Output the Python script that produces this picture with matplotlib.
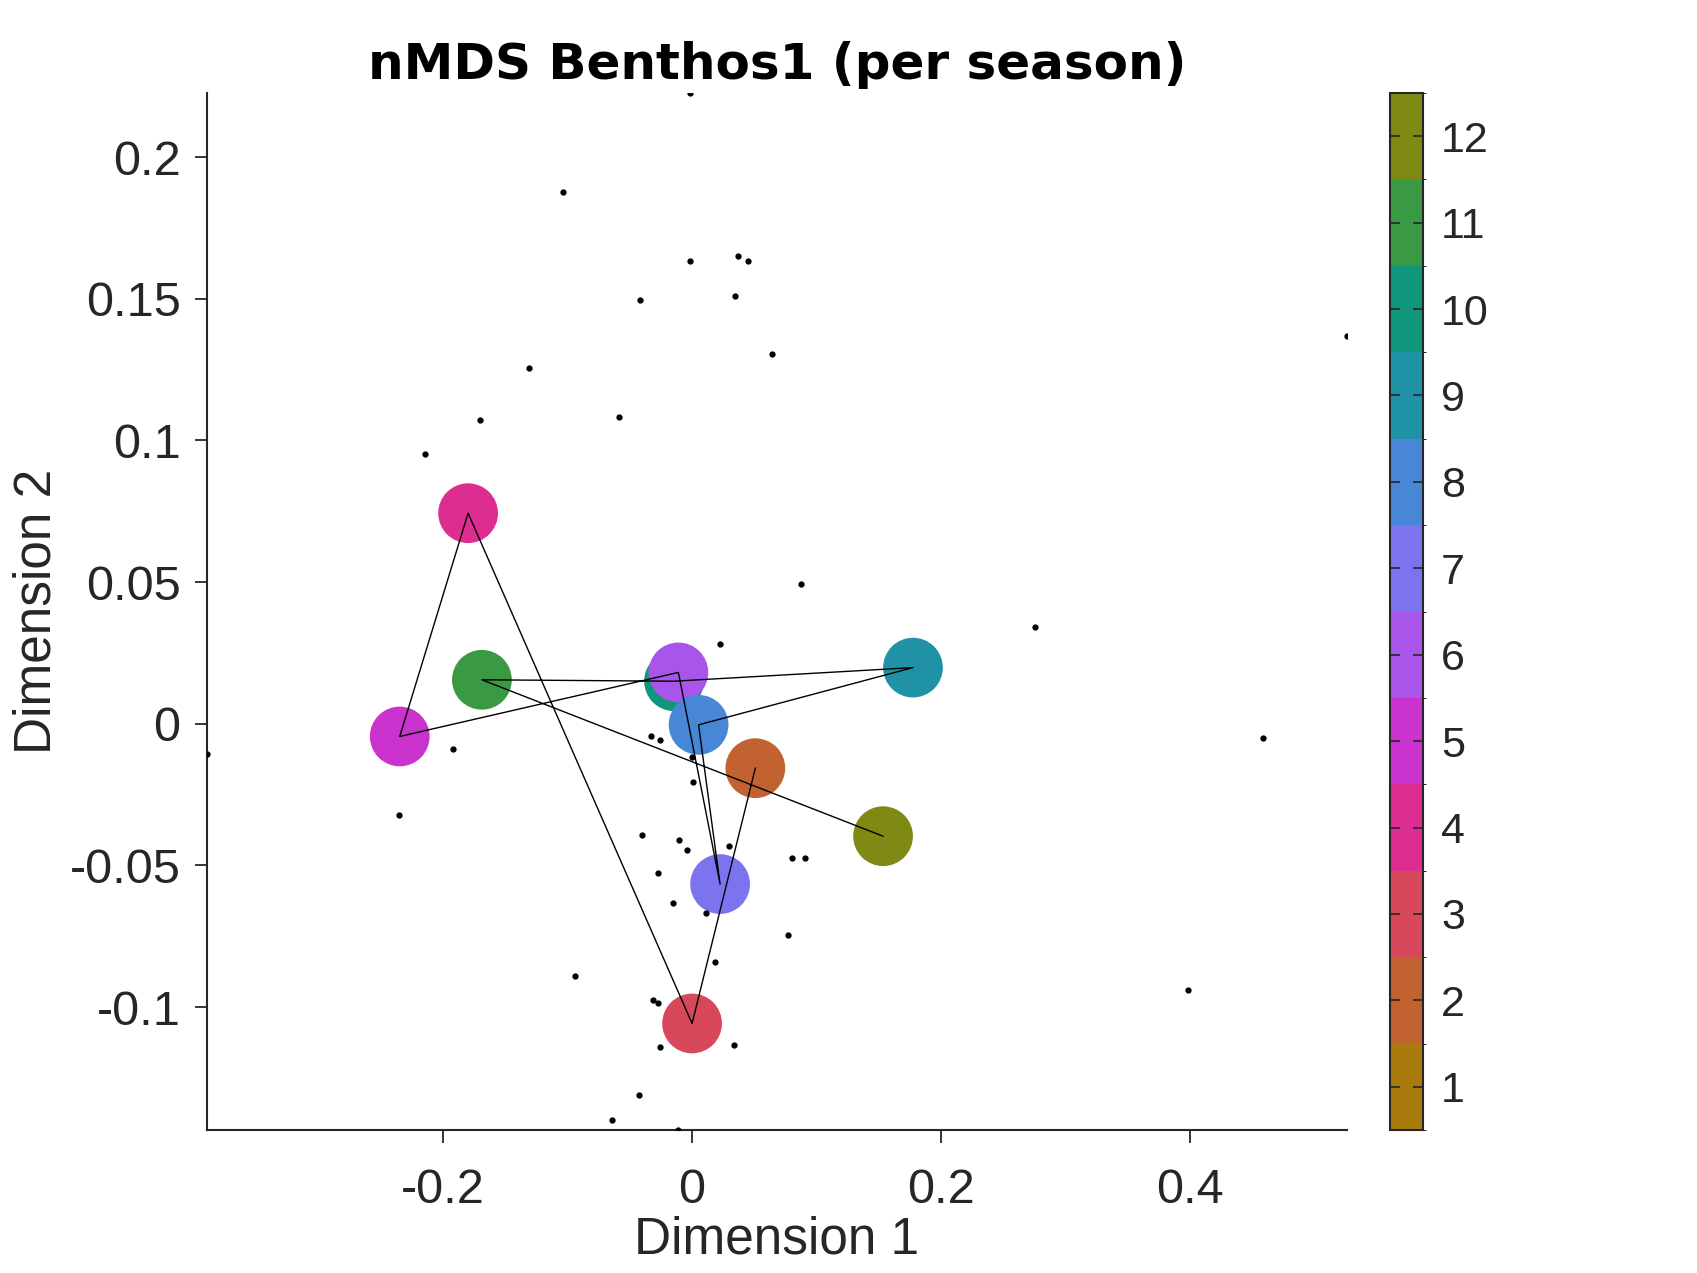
import matplotlib
matplotlib.use('Agg')
import matplotlib.pyplot as plt
from matplotlib.colors import ListedColormap, BoundaryNorm
from matplotlib.cm import ScalarMappable
from matplotlib.ticker import FuncFormatter

# samples (small black dots)
dot_x = [-0.0017, -0.1035, -0.0017, 0.0365, 0.0452, -0.0417, 0.0348, 0.0643,
         -0.1313, 0.526, -0.0583, -0.1704, -0.2143, 0.0877, 0.2757, 0.0225,
         -0.3896, -0.1921, 0.4583, -0.0328, -0.0257, 0.0, 0.0009, -0.2351,
         -0.040, -0.0106, -0.0041, 0.0296, 0.0805, 0.0903, -0.0274, -0.0152,
         0.0110, 0.0773, 0.0185, -0.0938, -0.0313, -0.0274, -0.026, 0.0339,
         -0.0426, -0.0643, -0.0113, 0.3983]
dot_y = [0.2226, 0.1878, 0.1633, 0.1652, 0.1633, 0.1495, 0.1511, 0.1304,
         0.1254, 0.1369, 0.1082, 0.1071, 0.0953, 0.0492, 0.0340, 0.0280,
         -0.0107, -0.0088, -0.0050, -0.0045, -0.0058, -0.0119, -0.0205, -0.0322,
         -0.0394, -0.0410, -0.0445, -0.0432, -0.0474, -0.0474, -0.0526, -0.0632,
         -0.0668, -0.0745, -0.0841, -0.0890, -0.0975, -0.0985, -0.1140, -0.1134,
         -0.1312, -0.1400, -0.1434, -0.0941]

# season centroids
seasons = [2, 3, 4, 5, 6, 7, 8, 9, 10, 11, 12]
cent_x = [0.0508, 0.0, -0.1799, -0.2348, -0.0110, 0.0225, 0.0052, 0.1774, -0.0145, -0.1688, 0.1534]
cent_y = [-0.0157, -0.1058, 0.0743, -0.0045, 0.0181, -0.0566, -0.0004, 0.0198, 0.0150, 0.0155, -0.0397]

season_colors = ['#A97A0C', '#C26230', '#D7485B', '#DE2D91', '#CB33CF', '#A954EA',
                 '#7C74EE', '#4787D6', '#1F93A5', '#10977B', '#3A9A44', '#7F8A14']
cbar_ticks = list(range(1, 13))

fig = plt.figure(figsize=(16.97, 12.73), dpi=100)
ax = fig.add_axes([0.12198, 0.11233, 0.67177, 0.81461])
cax = fig.add_axes([0.81909, 0.11233, 0.01945, 0.81461])

tick_font = 'Liberation Sans'

ax.plot(dot_x, dot_y, 'o', color='black', markersize=3.5, zorder=3)

# draw season 10 first so 6 sits on top of it
order = [seasons.index(10)] + [i for i in range(len(seasons)) if seasons[i] != 10]
for i in order:
    ax.scatter(cent_x[i], cent_y[i], s=1850, color=season_colors[seasons[i] - 1],
               edgecolors='none', zorder=2)

ax.plot(cent_x, cent_y, color='black', linewidth=1.0, zorder=4)

ax.set_xlim(min(dot_x), max(dot_x))
ax.set_ylim(min(dot_y), max(dot_y))
ax.set_xticks([-0.2, 0, 0.2, 0.4])
ax.set_yticks([-0.1, -0.05, 0, 0.05, 0.1, 0.15, 0.2])
fmt = FuncFormatter(lambda v, p: '%g' % round(v, 4))
ax.xaxis.set_major_formatter(fmt)
ax.yaxis.set_major_formatter(fmt)
ax.spines['top'].set_visible(False)
ax.spines['right'].set_visible(False)
for s in ['left', 'bottom']:
    ax.spines[s].set_linewidth(1.5)
    ax.spines[s].set_color('#262626')
ax.tick_params(axis='both', direction='out', length=9, width=1.3, color='#262626',
               labelsize=35, labelcolor='#262626')
ax.tick_params(axis='x', pad=18)
ax.tick_params(axis='y', pad=10)
for lab in ax.get_xticklabels() + ax.get_yticklabels():
    lab.set_fontfamily(tick_font)

ax.set_xlabel('Dimension 1', fontsize=37, fontfamily=tick_font, color='#262626', labelpad=2)
ax.set_ylabel('Dimension 2', fontsize=37, fontfamily=tick_font, color='#262626', labelpad=6)
ax.set_title('nMDS Benthos1 (per season)', fontsize=36, fontweight='bold',
             fontfamily='DejaVu Sans', pad=10)

cmap = ListedColormap(season_colors)
norm = BoundaryNorm([t - 0.5 for t in cbar_ticks] + [12.5], cmap.N)
cb = fig.colorbar(ScalarMappable(norm=norm, cmap=cmap), cax=cax, ticks=cbar_ticks)
cb.outline.set_linewidth(1.5)
cb.outline.set_edgecolor('#262626')
cax.tick_params(direction='in', left=True, right=True, length=7, width=1.2,
                color='#262626', labelsize=31, labelcolor='#262626', pad=13)
for lab in cax.get_yticklabels():
    lab.set_fontfamily(tick_font)

fig.savefig('out.png', dpi=100)
